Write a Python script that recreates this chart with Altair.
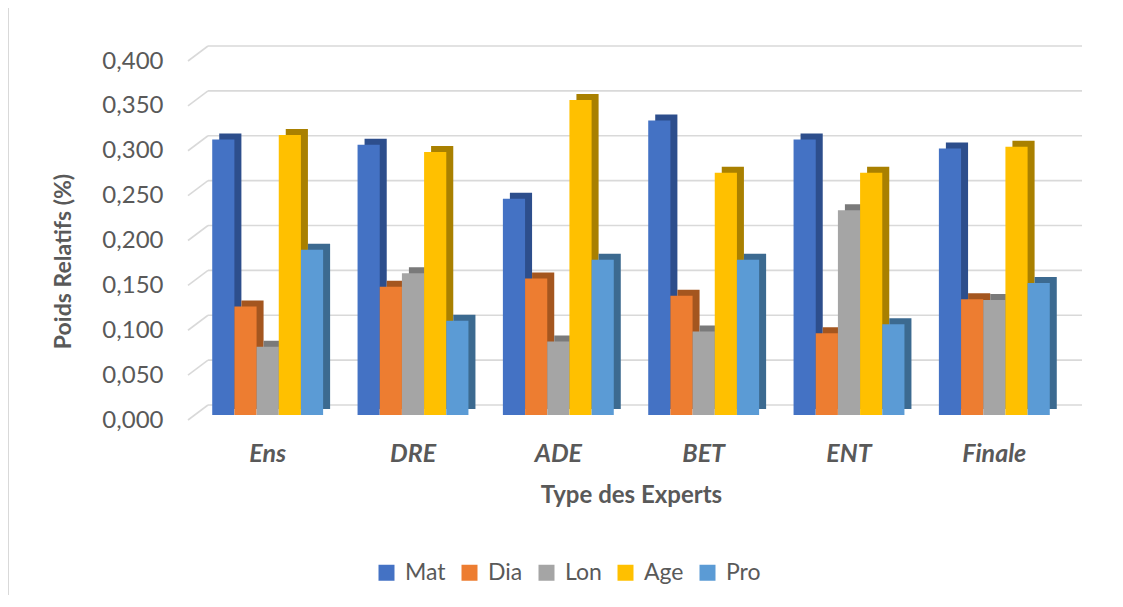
import altair as alt
import pandas as pd

groups = ["Ens", "DRE", "ADE", "BET", "ENT", "Finale"]
series = ["Mat", "Dia", "Lon", "Age", "Pro"]
mat = [0.307, 0.301, 0.241, 0.328, 0.307, 0.297]
dia = [0.121, 0.143, 0.152, 0.133, 0.091, 0.129]
lon = [0.076, 0.158, 0.082, 0.093, 0.228, 0.128]
age = [0.312, 0.293, 0.351, 0.270, 0.270, 0.299]
pro = [0.184, 0.105, 0.173, 0.173, 0.101, 0.147]
ticks = [0.0, 0.05, 0.10, 0.15, 0.20, 0.25, 0.30, 0.35, 0.40]

front_colors = ["#4472C4", "#ED7D31", "#A5A5A5", "#FFC000", "#5B9BD5"]
side_colors = ["#2D4E8C", "#A4561F", "#7A7A7A", "#A98000", "#3C6A90"]

values = [mat, dia, lon, age, pro]
rows = []
for s, vals in zip(series, values):
    for g, v in zip(groups, vals):
        rows.append({"group": g, "series": s, "value": v})
df = pd.DataFrame(rows)
tick_df = pd.DataFrame({"value": ticks})

FONT = "Lato"
TXT = "#595959"
W, H = 872, 359
P_INNER = 0.237
BAND = W / len(groups) * (1 - P_INNER)
DEPTH_X, DEPTH_Y = 7, 6

y_axis = alt.Axis(
    title="Poids Relatifs (%)", values=ticks, grid=False, domain=False,
    ticks=False, labelExpr="replace(format(datum.value, '.3f'), '.', ',')",
    labelFont=FONT, labelFontSize=24, labelColor=TXT, labelPadding=32,
    labelOffset=5,
    titleFont=FONT, titleFontSize=23, titleFontWeight="bold",
    titleColor=TXT, titleAngle=270, titleAlign="center",
    titleBaseline="middle", titleX=-132, titleY=205,
)
y_scale = alt.Scale(domain=[0, 0.4], nice=False, zero=True)

x_enc = alt.X(
    "group:N", sort=groups,
    scale=alt.Scale(paddingInner=P_INNER, paddingOuter=P_INNER / 2),
    axis=alt.Axis(
        title="Type des Experts", domain=False, ticks=False, grid=False,
        labelFont=FONT, labelFontSize=25, labelFontWeight="bold",
        labelFontStyle="italic", labelColor=TXT, labelPadding=26, labelAngle=0,
        titleFont=FONT, titleFontSize=24, titleFontWeight="bold",
        titleColor=TXT, titlePadding=17,
    ),
)
y_enc = alt.Y("value:Q", scale=y_scale, axis=y_axis)

grid_back = alt.Chart(tick_df).mark_rule(
    color="#D9D9D9", strokeWidth=1.6, yOffset=-10
).encode(
    y=y_enc, x=alt.value(13), x2=alt.value(887),
)
grid_diag = alt.Chart(tick_df).mark_point(
    shape="M -1 0.75 L 1 -0.75", size=400, filled=False,
    stroke="#D9D9D9", strokeWidth=1.6, yOffset=-2.5, opacity=1
).encode(
    y=y_enc, x=alt.value(3),
)

side = alt.Chart(df).mark_bar(yOffset=-DEPTH_Y).encode(
    x=x_enc,
    xOffset=alt.XOffset("series:N", sort=series,
                        scale=alt.Scale(range=[DEPTH_X, BAND + DEPTH_X],
                                        paddingInner=0, paddingOuter=0)),
    y=y_enc,
    color=alt.Color("series:N", sort=series,
                    scale=alt.Scale(domain=series, range=side_colors),
                    legend=None),
)
front = alt.Chart(df).mark_bar().encode(
    x=x_enc,
    xOffset=alt.XOffset("series:N", sort=series,
                        scale=alt.Scale(range=[0, BAND],
                                        paddingInner=0, paddingOuter=0)),
    y=y_enc,
    color=alt.Color(
        "series:N", sort=series,
        scale=alt.Scale(domain=series, range=front_colors),
        legend=alt.Legend(
            title=None, orient="none", legendX=180, legendY=505,
            direction="horizontal", symbolType="square", symbolSize=256,
            symbolStrokeWidth=0, labelFont=FONT, labelFontSize=23,
            labelColor=TXT, columnPadding=12, labelOffset=7, padding=0,
        ),
    ),
)

frame = alt.Chart(tick_df).mark_rule(color="#D9D9D9", strokeWidth=1.5).encode(
    x=alt.value(-187), y=alt.value(-48), y2=alt.value(545),
)

chart = alt.layer(frame, grid_back, grid_diag, side, front).resolve_scale(
    color="independent", xOffset="independent"
).properties(
    width=W, height=H,
    autosize=alt.AutoSizeParams(type="none"),
    padding={"left": 187, "top": 48, "right": 48, "bottom": 180},
    background="white",
).configure_view(stroke=None)

chart.save("out.html", embed_options={"renderer": "svg", "actions": False})
